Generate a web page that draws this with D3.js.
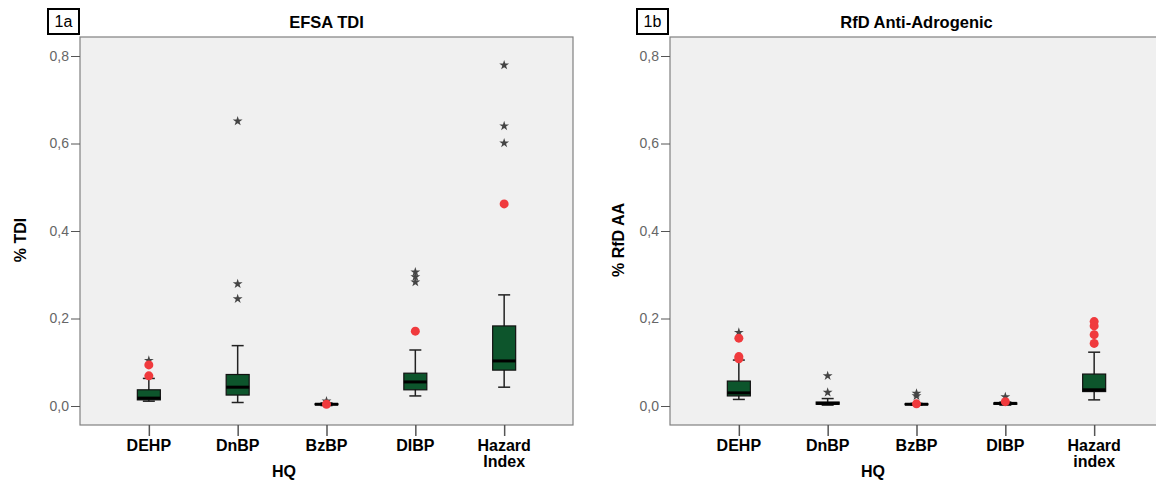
<!DOCTYPE html>
<html>
<head>
<meta charset="utf-8">
<script src="https://cdn.jsdelivr.net/npm/d3@7"></script>
<style>
  body { margin: 0; background: #fff; }
  text { font-family: "Liberation Sans", Arial, sans-serif; }
</style>
</head>
<body>
<div id="chart"></div>
<script>
// categorias y ticks
const categoriesA = ['DEHP', 'DnBP', 'BzBP', 'DIBP', 'Hazard Index'];
const categoriesB = ['DEHP', 'DnBP', 'BzBP', 'DIBP', 'Hazard index'];
const yTicks = [0, 0.2, 0.4, 0.6, 0.8];

// 1a EFSA TDI
const tdiLow = [0.011, 0.008, 0.001, 0.023, 0.043];
const tdiQ1 = [0.014, 0.025, 0.003, 0.037, 0.082];
const tdiMedian = [0.018, 0.043, 0.004, 0.055, 0.103];
const tdiQ3 = [0.037, 0.072, 0.005, 0.075, 0.183];
const tdiHigh = [0.063, 0.138, 0.007, 0.128, 0.254];
const tdiOutliers = [[0.069, 0.094], [], [0.004], [0.171], [0.462]];
const tdiExtremes = [[0.104], [0.245, 0.279, 0.651], [0.011], [0.283, 0.295, 0.306], [0.601, 0.640, 0.779]];

// 1b RfD anti-androgenic
const rfdLow = [0.015, 0.002, 0.002, 0.002, 0.014];
const rfdQ1 = [0.023, 0.004, 0.003, 0.004, 0.033];
const rfdMedian = [0.030, 0.006, 0.004, 0.006, 0.037];
const rfdQ3 = [0.057, 0.009, 0.005, 0.007, 0.073];
const rfdHigh = [0.105, 0.017, 0.006, 0.009, 0.123];
const rfdOutliers = [[0.108, 0.113, 0.155], [], [0.005], [0.010], [0.143, 0.163, 0.183, 0.193]];
const rfdExtremes = [[0.168], [0.031, 0.069], [0.023, 0.029], [0.021], []];

const width = 1156;
const height = 483;

const svg = d3.select('#chart')
  .append('svg')
  .attr('width', width)
  .attr('height', height);

svg.append('rect').attr('width', width).attr('height', height).attr('fill', '#fff');

// coma decimal
const locale = d3.formatLocale({ decimal: ',', thousands: '.', grouping: [3], currency: ['', '€'] });
const fmt = locale.format('.1f');

function buildRows(cats, low, q1, med, q3, high, outl, extr) {
  return cats.map((c, i) => ({
    cat: c, low: low[i], q1: q1[i], med: med[i], q3: q3[i], high: high[i],
    outliers: outl[i], extremes: extr[i]
  }));
}

function drawPanel(cfg) {
  const g = svg.append('g');
  const { left, right, top, bottom } = cfg;

  const y = d3.scaleLinear().domain([0, 0.8]).range([406, 56]);
  const x = d3.scalePoint().domain(cfg.rows.map(d => d.cat)).range([left, right]).padding(0.775);

  // fondo del grafico
  g.append('rect')
    .attr('x', left).attr('y', top)
    .attr('width', right - left).attr('height', bottom - top)
    .attr('fill', '#f0f0f0')
    .attr('stroke', '#808080')
    .attr('stroke-width', 1.2);

  // eje y
  const yAxis = d3.axisLeft(y).tickValues(yTicks).tickSize(9).tickPadding(2).tickFormat(fmt);
  const gy = g.append('g').attr('transform', `translate(${left},0)`).call(yAxis);
  gy.select('.domain').remove();
  gy.selectAll('line').attr('stroke', '#555');
  gy.selectAll('text').attr('fill', '#666').style('font-size', '14px')
    .style('font-family', '"Liberation Sans", Arial, sans-serif');

  // eje x
  const xAxis = d3.axisBottom(x).tickSize(11).tickFormat('');
  const gx = g.append('g').attr('transform', `translate(0,${bottom})`).call(xAxis);
  gx.select('.domain').remove();
  gx.selectAll('line').attr('stroke', '#555').attr('stroke-width', 1.5);

  g.selectAll('.catlabel')
    .data(cfg.rows)
    .enter().append('text')
    .attr('class', 'catlabel')
    .attr('text-anchor', 'middle')
    .attr('x', d => x(d.cat))
    .attr('y', 451)
    .style('font-size', '16px')
    .style('font-weight', 'bold')
    .each(function (d) {
      const parts = d.cat.split(' ');
      d3.select(this).selectAll('tspan')
        .data(parts).enter().append('tspan')
        .attr('x', x(d.cat))
        .attr('dy', (p, i) => i === 0 ? 0 : 16)
        .text(p => p);
    });

  // cajas
  const bw = 23;
  const cap = 12;
  const box = g.selectAll('.box').data(cfg.rows).enter().append('g').attr('class', 'box');

  box.append('line')
    .attr('x1', d => x(d.cat)).attr('x2', d => x(d.cat))
    .attr('y1', d => y(d.low)).attr('y2', d => y(d.high))
    .attr('stroke', '#222').attr('stroke-width', 1.5);
  box.append('line')
    .attr('x1', d => x(d.cat) - cap / 2).attr('x2', d => x(d.cat) + cap / 2)
    .attr('y1', d => y(d.low)).attr('y2', d => y(d.low))
    .attr('stroke', '#222').attr('stroke-width', 1.5);
  box.append('line')
    .attr('x1', d => x(d.cat) - cap / 2).attr('x2', d => x(d.cat) + cap / 2)
    .attr('y1', d => y(d.high)).attr('y2', d => y(d.high))
    .attr('stroke', '#222').attr('stroke-width', 1.5);
  box.append('rect')
    .attr('x', d => x(d.cat) - bw / 2)
    .attr('y', d => y(d.q3))
    .attr('width', bw)
    .attr('height', d => y(d.q1) - y(d.q3))
    .attr('fill', '#0d552c')
    .attr('stroke', '#111')
    .attr('stroke-width', 1.2);
  box.append('line')
    .attr('x1', d => x(d.cat) - bw / 2).attr('x2', d => x(d.cat) + bw / 2)
    .attr('y1', d => y(d.med)).attr('y2', d => y(d.med))
    .attr('stroke', '#000').attr('stroke-width', 3);

  // valores atipicos (circulo) y extremos (estrella)
  const star = d3.symbol().type(d3.symbolStar).size(30);
  cfg.rows.forEach(d => {
    g.selectAll(null).data(d.extremes).enter().append('path')
      .attr('d', star)
      .attr('transform', v => `translate(${x(d.cat)},${y(v)})`)
      .attr('fill', '#444');
    g.selectAll(null).data(d.outliers).enter().append('circle')
      .attr('cx', x(d.cat))
      .attr('cy', v => y(v))
      .attr('r', 4.5)
      .attr('fill', '#f03a3d');
  });

  // titulos
  g.append('text')
    .attr('x', (left + right) / 2).attr('y', 28)
    .attr('text-anchor', 'middle')
    .style('font-size', '16.5px').style('font-weight', 'bold')
    .text(cfg.title);

  g.append('rect')
    .attr('x', cfg.tagX).attr('y', 9).attr('width', 31).attr('height', 25)
    .attr('fill', '#fff').attr('stroke', '#000').attr('stroke-width', 2);
  g.append('text')
    .attr('x', cfg.tagX + 15.5).attr('y', 27)
    .attr('text-anchor', 'middle')
    .style('font-size', '16px')
    .text(cfg.tag);

  g.append('text')
    .attr('transform', `translate(${cfg.yLabelX},240) rotate(-90)`)
    .attr('text-anchor', 'middle')
    .style('font-size', '16px').style('font-weight', 'bold')
    .text(cfg.yLabel);

  g.append('text')
    .attr('x', cfg.hqX).attr('y', 477)
    .attr('text-anchor', 'middle')
    .style('font-size', '16px').style('font-weight', 'bold')
    .text('HQ');
}

drawPanel({
  rows: buildRows(categoriesA, tdiLow, tdiQ1, tdiMedian, tdiQ3, tdiHigh, tdiOutliers, tdiExtremes),
  left: 80, right: 573, top: 37, bottom: 425,
  title: 'EFSA TDI', tag: '1a', tagX: 48, yLabel: '% TDI', yLabelX: 26, hqX: 284
});

drawPanel({
  rows: buildRows(categoriesB, rfdLow, rfdQ1, rfdMedian, rfdQ3, rfdHigh, rfdOutliers, rfdExtremes),
  left: 670, right: 1163, top: 37, bottom: 425,
  title: 'RfD Anti-Adrogenic', tag: '1b', tagX: 637, yLabel: '% RfD AA', yLabelX: 624, hqX: 873
});
</script>
</body>
</html>
